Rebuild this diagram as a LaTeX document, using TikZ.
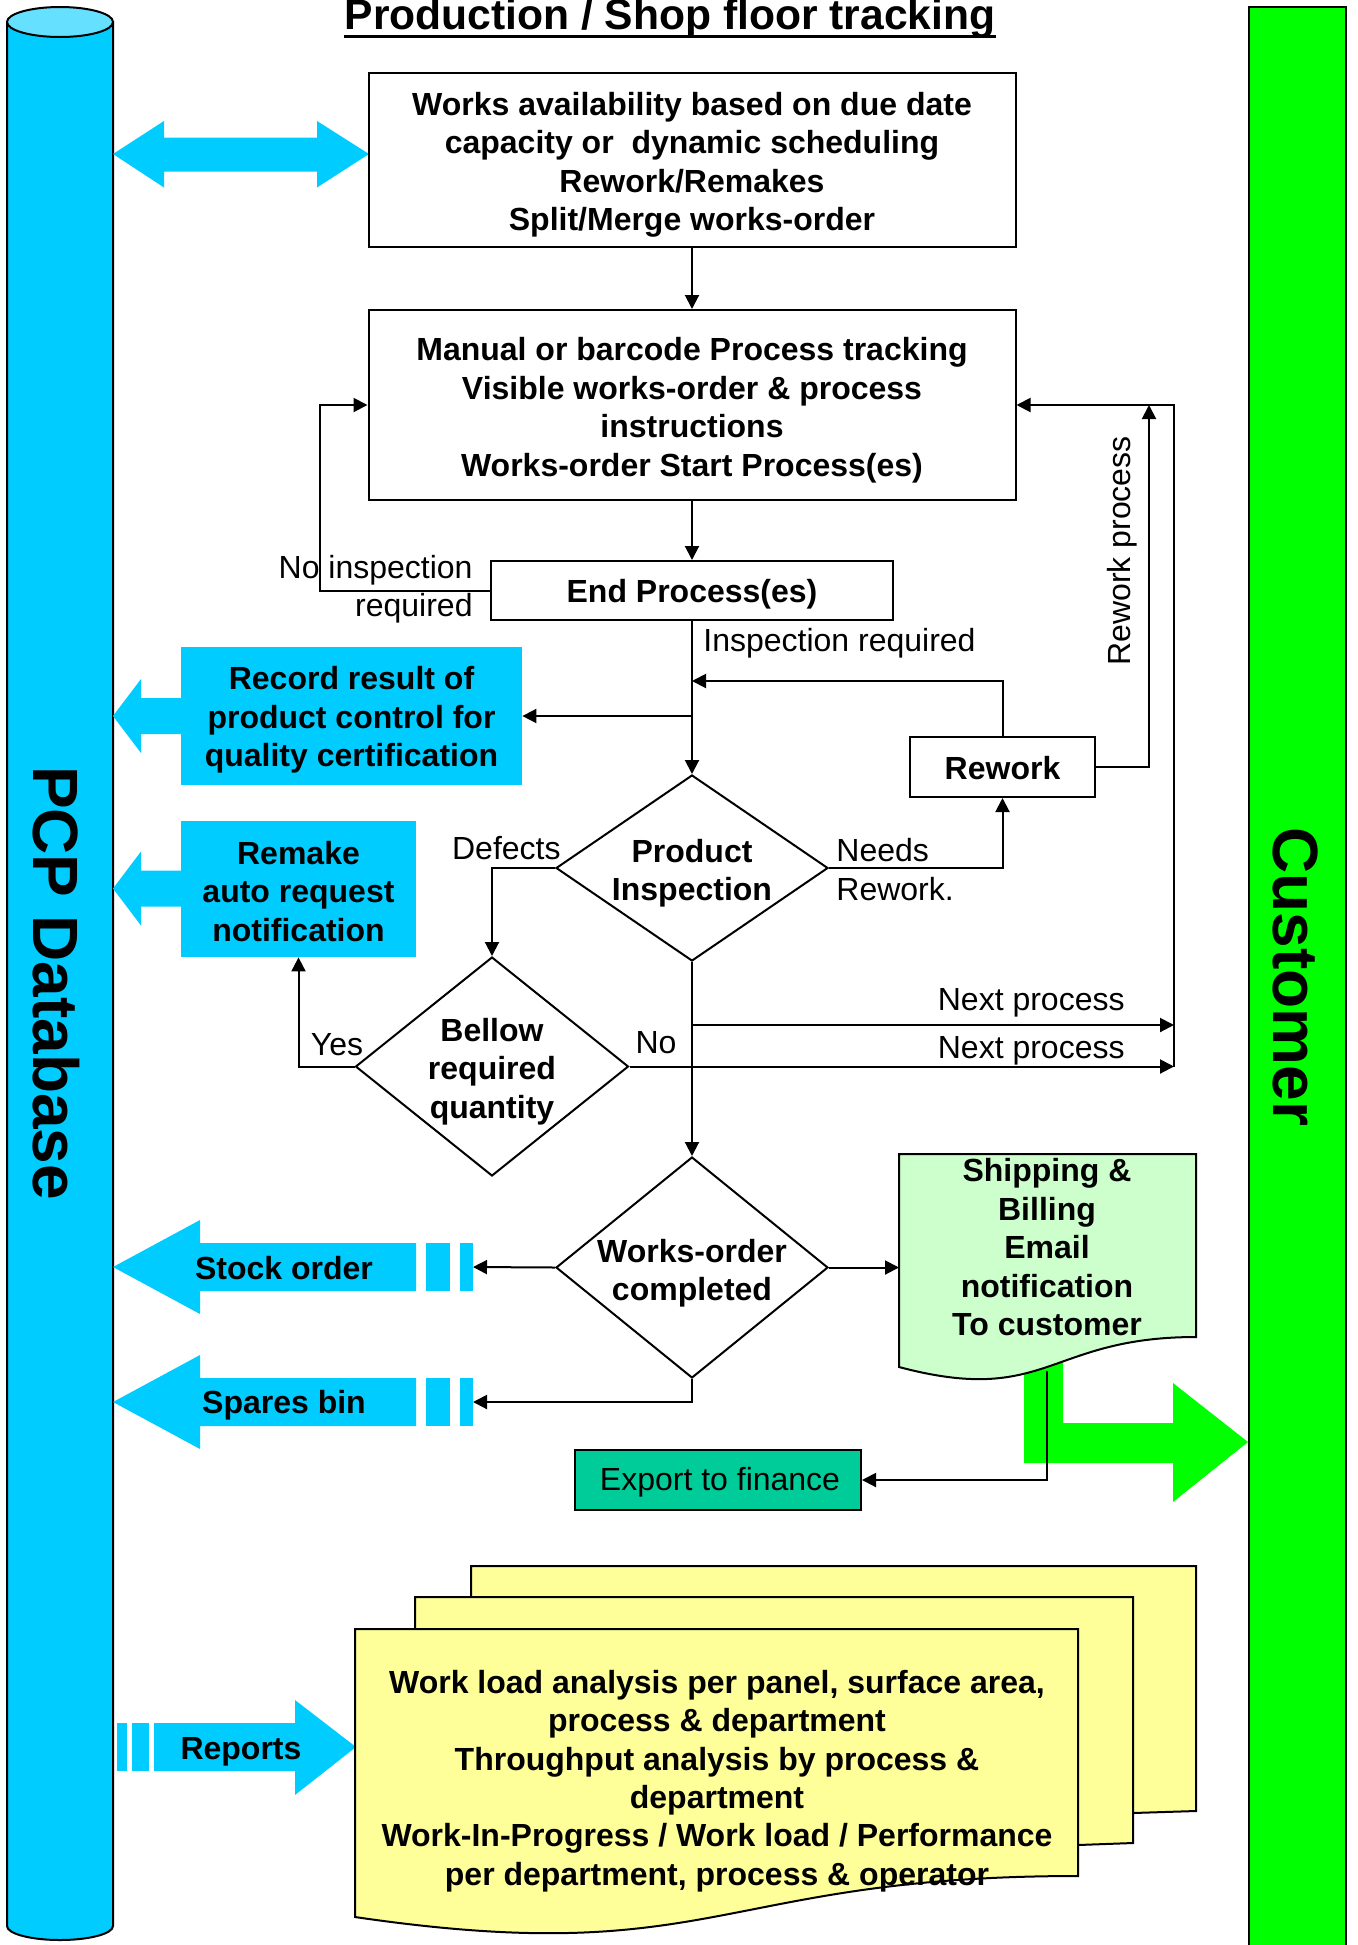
\documentclass[tikz,border=0pt]{standalone}
\usepackage{fontspec}
\setmainfont{Liberation Sans}
\usetikzlibrary{arrows.meta,shapes.geometric,calc}
\definecolor{dbcyan}{HTML}{00CCFF}
\definecolor{dbtop}{HTML}{66E0FF}
\definecolor{custgreen}{HTML}{00FF00}
\definecolor{shipgreen}{HTML}{CCFFCC}
\definecolor{expgreen}{HTML}{00CC99}
\definecolor{repyellow}{HTML}{FFFF99}
\tikzset{
  boxtext/.style={font=\bfseries\fontsize{16}{19.25}\selectfont, align=center, inner sep=0pt},
  procbox/.style={draw, line width=1pt, fill=white, inner sep=0pt},
  cyanbox/.style={fill=dbcyan, inner sep=0pt},
  decision/.style={draw, line width=1pt, diamond, fill=white, inner sep=0pt},
  lbl/.style={font=\fontsize{16}{19.25}\selectfont, inner sep=0pt, align=left},
  conn/.style={line width=1pt, -{Triangle[length=7pt,width=7pt]}},
  outline/.style={line width=1pt},
  bigtext/.style={font=\bfseries\fontsize{32}{38}\selectfont, inner sep=0pt},
}
\begin{document}
\begin{tikzpicture}[x=0.5pt,y=-0.5pt]
\useasboundingbox (0,0) rectangle (1357,1945);

% ---------- PCP database cylinder ----------
\draw[outline, fill=dbcyan] (7,22) -- (7,1926) arc[start angle=180,end angle=0,x radius=53,y radius=14] -- (113,22) -- cycle;
\draw[outline, fill=dbtop] (60,22) ellipse[x radius=53, y radius=15];
\node[bigtext, rotate=-90] (pcp) at (56,983) {PCP Database};

% ---------- Customer bar ----------
\draw[outline, fill=custgreen] (1249,7) rectangle (1346,1960);
\node[bigtext, rotate=-90] (cust) at (1296,977) {Customer};

% ---------- Title ----------
\node[font=\bfseries\fontsize{21.3}{25}\selectfont, inner sep=0pt, anchor=base] (title) at (670,29) {Production / Shop floor tracking};
\draw[line width=1.5pt] ($(title.base west)+(0,7)$) -- ($(title.base east)+(0,7)$);

% ---------- Big cyan arrows ----------
\fill[dbcyan] (113,154) -- (164,121) -- (164,137.5) -- (317,137.5) -- (317,121) -- (369,154) -- (317,187.5) -- (317,171.5) -- (164,171.5) -- (164,187.5) -- cycle;
\fill[dbcyan] (113,716) -- (141,679) -- (141,698) -- (182,698) -- (182,734) -- (141,734) -- (141,753) -- cycle;
\fill[dbcyan] (113,888.5) -- (141,851.5) -- (141,870.5) -- (182,870.5) -- (182,906.5) -- (141,906.5) -- (141,925.5) -- cycle;
% stock order
\fill[dbcyan] (113,1267) -- (200,1220) -- (200,1243) -- (416,1243) -- (416,1291) -- (200,1291) -- (200,1314) -- cycle;
\fill[dbcyan] (426,1243) rectangle (450,1291);
\fill[dbcyan] (460,1243) rectangle (473,1291);
\node[boxtext] (stock) at (284,1268) {Stock order};
% spares bin
\fill[dbcyan] (113,1402) -- (200,1355) -- (200,1378) -- (416,1378) -- (416,1426) -- (200,1426) -- (200,1449) -- cycle;
\fill[dbcyan] (426,1378) rectangle (450,1426);
\fill[dbcyan] (460,1378) rectangle (473,1426);
\node[boxtext] (spares) at (284,1405) {Spares bin};
% reports
\fill[dbcyan] (117,1723) rectangle (127,1771);
\fill[dbcyan] (132,1723) rectangle (149,1771);
\fill[dbcyan] (154,1723) -- (295,1723) -- (295,1700) -- (356,1747) -- (295,1795) -- (295,1771) -- (154,1771) -- cycle;
\node[boxtext] (reports) at (241,1752) {Reports};

% ---------- Green arrow to customer ----------
\fill[custgreen] (1024,1360) -- (1063,1360) -- (1063,1423) -- (1173,1423) -- (1173,1383) -- (1248,1442) -- (1173,1502) -- (1173,1463) -- (1024,1463) -- cycle;

% ---------- Process boxes ----------
\node[procbox, minimum width=323.5pt, minimum height=87pt] (avail) at (692,160) {};
\node[boxtext] (availtxt) at (692,165)
  {Works availability based on due date\\capacity or~ dynamic scheduling\\Rework/Remakes\\Split/Merge works-order};
\node[procbox, minimum width=323.5pt, minimum height=95pt] (track) at (692,405) {};
\node[boxtext] (tracktxt) at (692,410)
  {Manual or barcode Process tracking\\Visible works-order \& process\\instructions\\Works-order Start Process(es)};
\node[procbox, minimum width=201pt, minimum height=29.5pt] (endp) at (692,590.5) {};
\node[boxtext] (endptxt) at (692,594.5) {End Process(es)};
\node[procbox, minimum width=92.5pt, minimum height=30pt] (rework) at (1002.5,767) {};
\node[boxtext] (reworktxt) at (1002.5,768.5) {Rework};
\node[cyanbox, minimum width=170.5pt, minimum height=69pt] (record) at (351.5,716) {};
\node[boxtext] (recordtxt) at (351.5,720)
  {Record result of\\product control for\\quality certification};
\node[cyanbox, minimum width=117.5pt, minimum height=68pt] (remake) at (298.5,889) {};
\node[boxtext] (remaketxt) at (298.5,891.5)
  {Remake\\auto request\\notification};
\node[draw, line width=1pt, fill=expgreen, inner sep=0pt, minimum width=143pt, minimum height=30pt] (export) at (718,1480) {};
\node[lbl] (exporttxt) at (720,1482) {Export to finance};

% ---------- Decisions ----------
\node[decision, minimum width=136pt, minimum height=93pt] (insp) at (692,868) {};
\node[boxtext] (insptxt) at (692,873) {Product\\Inspection};
\node[decision, minimum width=136.5pt, minimum height=109.5pt] (bellow) at (492,1066.5) {};
\node[boxtext] (bellowtxt) at (492,1071.5) {Bellow\\required\\quantity};
\node[decision, minimum width=136pt, minimum height=110.5pt] (wocomp) at (692,1267.5) {};
\node[boxtext] (wocomptxt) at (692,1273) {Works-order\\completed};

% ---------- Shipping document ----------
\draw[outline, fill=shipgreen] (899,1154) -- (1196,1154) -- (1196,1337) .. controls (1047.5,1337) and (1047.5,1406.5) .. (899,1367) -- cycle;
\node[boxtext] (ship) at (1047,1247.5) {Shipping \&\\Billing\\Email\\notification\\To customer};

% ---------- Reports stack ----------
\draw[outline, fill=repyellow] (471,1597) -- (471,1566) -- (1196,1566) -- (1196,1811) -- (1133,1813) -- cycle;
\draw[outline, fill=repyellow] (415,1629) -- (415,1597) -- (1133,1597) -- (1133,1843) -- (1078,1845) -- cycle;
\draw[outline, fill=repyellow] (355,1629) -- (1078,1629) -- (1078,1876) .. controls (716.5,1876) and (716.5,1970) .. (355,1917) -- cycle;
\node[boxtext, font=\bfseries\fontsize{16}{19.2}\selectfont] (analysis) at (717,1781)
  {Work load analysis per panel, surface area,\\process \& department\\Throughput analysis by process \&\\department\\Work-In-Progress / Work load / Performance\\per department, process \& operator};

% ---------- Connectors ----------
\coordinate (nojog) at (320,405);
\coordinate (rwjoin) at (692,681);
\coordinate (rwtop) at (1149,405);
\coordinate (looptop) at (1174,405);
\coordinate (loopbot) at (1174,1066.5);
\coordinate (npstart) at (692,1025);
\coordinate (stockend) at (473,1267);
\coordinate (sparesend) at (473,1402);
\coordinate (shipleft) at (899,1267.5);
\coordinate (shipbot) at (1047,1371);

\draw[conn] (avail.south) -- (track.north);
\draw[conn] (track.south) -- (endp.north);
\draw[conn] (endp.west) -| (nojog) -- (track.west);
\draw[conn] (endp.south) -- (insp.north);
\draw[conn] (endp.south |- record.east) -- (record.east);
\draw[conn] (rework.north) |- (rwjoin);
\draw[conn] (insp.east) -| (rework.south);
\draw[conn] (rework.east) -| (rwtop);
\draw[conn] (loopbot) -- (looptop) -- (track.east);
\draw[conn] (npstart) -- (npstart -| looptop);
\draw[conn] (bellow.east) -- (bellow.east -| looptop);
\draw[conn] (insp.west) -| (bellow.north);
\draw[conn] (bellow.west) -| (remake.south);
\draw[conn] (insp.south) -- (wocomp.north);
\draw[conn] (wocomp.west) -- (stockend);
\draw[conn] (wocomp.south) |- (sparesend);
\draw[conn] (wocomp.east) -- (shipleft);
\draw[conn] (shipbot) |- (export.east);

% ---------- Labels ----------
\node[lbl, anchor=east, align=right] (lnoinsp) at (473,589) {No inspection\\required};
\node[lbl, anchor=west] (linsp) at (703,643) {Inspection required};
\node[lbl, anchor=west] (lneeds) at (836,869.5) {Needs\\Rework.};
\node[lbl, anchor=east] (ldef) at (561,848) {Defects};
\node[lbl] (lyes) at (337,1045) {Yes};
\node[lbl] (lno) at (656,1043) {No};
\node[lbl, anchor=east] (lnp1) at (1125,1003) {Next process};
\node[lbl, anchor=east] (lnp2) at (1125,1051) {Next process};
\node[lbl, rotate=90] (lrwp) at (1122,551) {Rework process};
\end{tikzpicture}
\end{document}
